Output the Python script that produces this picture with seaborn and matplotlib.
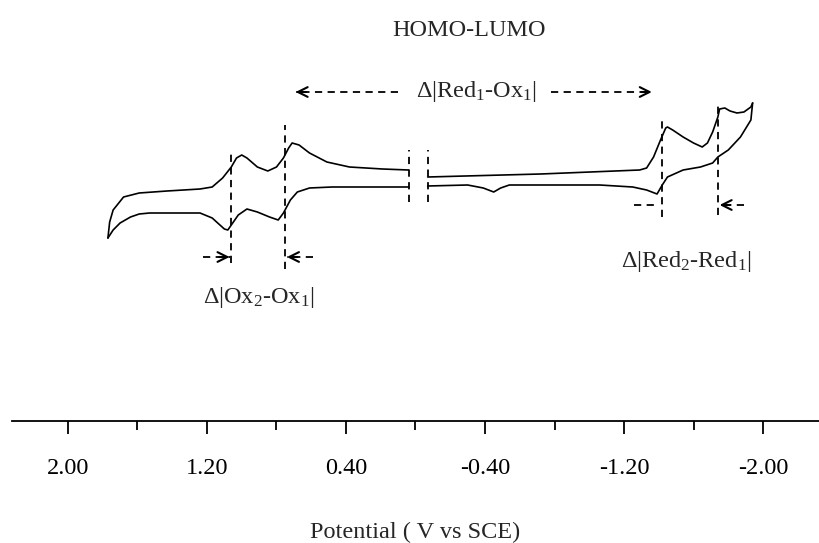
import numpy as np
import pandas as pd
import matplotlib
matplotlib.use('Agg')
import matplotlib.pyplot as plt
import seaborn as sns

# cyclic voltammogram (potential in V vs SCE, current in arbitrary units)
E_upper_left = [1.77, 1.76, 1.74, 1.68, 1.59, 1.43, 1.24, 1.17, 1.11, 1.06, 1.03, 1.00, 0.97, 0.91,
                0.85, 0.80, 0.76, 0.73, 0.71, 0.67, 0.61, 0.51, 0.38, 0.19, 0.04]
I_upper_left = [18.3, 19.9, 21.1, 22.4, 22.8, 23.0, 23.2, 23.4, 24.3, 25.4, 26.3, 26.6, 26.3, 25.4,
                25.0, 25.4, 26.3, 27.3, 27.8, 27.6, 26.8, 25.9, 25.4, 25.2, 25.1]

E_lower_left = [1.77, 1.74, 1.70, 1.64, 1.59, 1.53, 1.24, 1.17, 1.10, 1.08, 1.06, 1.02, 0.97,
                0.91, 0.84, 0.79, 0.76, 0.72, 0.68, 0.61, 0.48, 0.04]
I_lower_left = [18.3, 19.1, 19.8, 20.4, 20.7, 20.8, 20.8, 20.3, 19.2, 19.1, 19.6, 20.6, 21.2,
                20.9, 20.4, 20.1, 20.8, 22.1, 22.9, 23.3, 23.4, 23.4]

E_upper_right = [-0.07, -0.72, -1.29, -1.33, -1.37, -1.41, -1.44, -1.45, -1.48, -1.54, -1.60,
                 -1.65, -1.68, -1.71, -1.74, -1.75, -1.78, -1.81, -1.85, -1.89, -1.93, -1.94]
I_upper_right = [24.4, 24.7, 25.1, 25.3, 26.4, 28.1, 29.3, 29.4, 29.1, 28.4, 27.8,
                 27.4, 27.8, 28.9, 30.4, 31.2, 31.3, 31.0, 30.8, 30.9, 31.4, 31.8]

E_lower_right = [-0.07, -0.30, -0.39, -0.45, -0.49, -0.54, -0.76, -1.06, -1.25, -1.33, -1.39,
                 -1.42, -1.45, -1.54, -1.64, -1.71, -1.74, -1.80, -1.87, -1.93, -1.94]
I_lower_right = [23.5, 23.6, 23.3, 22.9, 23.3, 23.6, 23.6, 23.6, 23.4, 23.1, 22.7,
                 23.6, 24.4, 25.1, 25.4, 25.8, 26.4, 27.1, 28.4, 30.1, 31.8]

# dashed guide lines (half-wave potentials and the axis break)
guide_E = [1.06, 0.75, 0.04, -0.07, -1.42, -1.74]
guide_lo = [15.8, 15.2, 21.9, 21.9, 20.4, 20.6]
guide_hi = [26.9, 29.6, 27.1, 27.1, 30.4, 31.8]

major_ticks = [2.0, 1.2, 0.4, -0.4, -1.2, -2.0]
major_labels = ['2.00', '1.20', '0.40', '-0.40', '-1.20', '-2.00']
minor_ticks = [1.6, 0.8, 0.0, -0.8, -1.6]

segments = {'upper_left': (E_upper_left, I_upper_left),
            'lower_left': (E_lower_left, I_lower_left),
            'upper_right': (E_upper_right, I_upper_right),
            'lower_right': (E_lower_right, I_lower_right)}
df = pd.concat([pd.DataFrame({'E': e, 'I': i, 'seg': name}) for name, (e, i) in segments.items()],
               ignore_index=True)

sns.set_style('white')
plt.rcParams['font.family'] = ['Liberation Serif', 'DejaVu Serif']
plt.rcParams['mathtext.fontset'] = 'custom'
plt.rcParams['mathtext.rm'] = 'Liberation Serif'
plt.rcParams['mathtext.it'] = 'Liberation Serif:italic'
plt.rcParams['mathtext.default'] = 'rm'

fs = 17.5
fig = plt.figure(figsize=(8.19, 5.43), dpi=100)
ax = fig.add_axes([12 / 819, 122 / 543, 807 / 819, 421 / 543])

sns.lineplot(data=df, x='E', y='I', units='seg', estimator=None, sort=False,
             color='black', lw=1.2, ax=ax)

dash = (0, (4, 3))
for e, lo, hi in zip(guide_E, guide_lo, guide_hi):
    ax.plot([e, e], [lo, hi], color='black', lw=1.3, linestyle=dash)


def dashed_arrow(x0, x1, y, head=True):
    ax.plot([x0, x1], [y, y], color='black', lw=1.3, linestyle=dash)
    if head:
        d = 0.06 if x1 < x0 else -0.06
        ax.annotate('', xy=(x1, y), xytext=(x1 + d, y),
                    arrowprops=dict(arrowstyle='->,head_length=0.7,head_width=0.35',
                                    color='black', lw=1.5, shrinkA=0, shrinkB=0))


# Ox2 - Ox1 spacing
dashed_arrow(1.22, 1.07, 16.4)
dashed_arrow(0.59, 0.74, 16.4)
# Red2 - Red1 spacing
dashed_arrow(-1.26, -1.40, 21.6, head=False)
dashed_arrow(-1.89, -1.75, 21.6)
# Red1 - Ox1 (HOMO-LUMO) span
dashed_arrow(0.10, 0.69, 32.9)
dashed_arrow(-0.78, -1.36, 32.9)

ax.text(-0.31, 39.1, 'HOMO-LUMO', ha='center', va='center', fontsize=fs)
ax.text(-0.35, 33.0, r'$\Delta$|Red$_1$-Ox$_1$|', ha='center', va='center', fontsize=fs)
ax.text(0.90, 12.4, r'$\Delta$|Ox$_2$-Ox$_1$|', ha='center', va='center', fontsize=fs)
ax.text(-1.56, 15.9, r'$\Delta$|Red$_2$-Red$_1$|', ha='center', va='center', fontsize=fs)

ax.set_xlim(2.322, -2.322)
ax.set_ylim(0, 42.1)
for s in ['top', 'left', 'right']:
    ax.spines[s].set_visible(False)
ax.spines['bottom'].set_linewidth(1.3)
ax.spines['bottom'].set_color('black')
ax.set_yticks([])
ax.set_ylabel('')
ax.set_xticks(major_ticks)
ax.set_xticklabels(major_labels, fontsize=fs)
ax.set_xticks(minor_ticks, minor=True)
ax.tick_params(axis='x', which='both', bottom=True, direction='out', width=1.3, colors='black')
ax.tick_params(axis='x', which='major', length=9.5, pad=17)
ax.tick_params(axis='x', which='minor', length=6.5)
ax.set_xlabel('Potential ( V vs SCE)', fontsize=fs, labelpad=31)

fig.savefig('out.png', dpi=100)
